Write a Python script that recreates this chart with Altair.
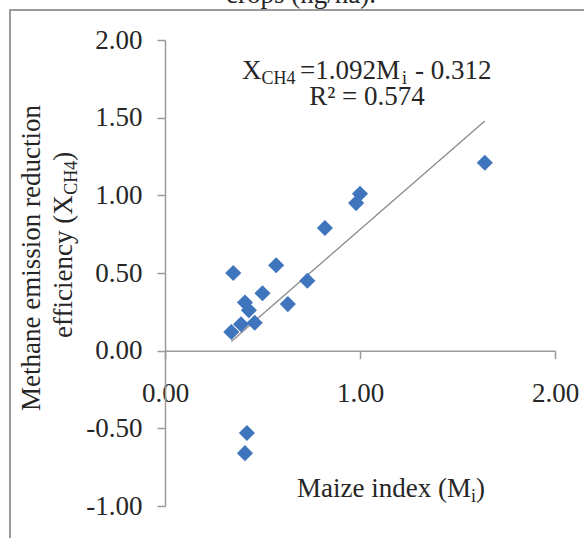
import altair as alt
import pandas as pd

# ---- data ----
maize_index = [0.35, 0.57, 0.73, 0.50, 0.63, 0.41, 0.43, 0.46, 0.39, 0.34,
               1.64, 1.00, 0.98, 0.82, 0.42, 0.41]
ch4_efficiency = [0.50, 0.55, 0.45, 0.37, 0.30, 0.31, 0.26, 0.18, 0.17, 0.12,
                  1.21, 1.01, 0.95, 0.79, -0.53, -0.66]
slope = 1.092
intercept = -0.312
x_ticks = [0.0, 1.0, 2.0]
y_ticks = [-1.0, -0.5, 0.0, 0.5, 1.0, 1.5, 2.0]

W, H = 390, 466
LEFT, TOP = 165, 40
FONT = "Liberation Serif"
FS = 27
SUB = 18
TXT = "#262626"
AX = "#9a9a9a"
NB = "\u00a0"

df = pd.DataFrame({"mi": maize_index, "x": ch4_efficiency})
xs = [min(maize_index), max(maize_index)]
trend = pd.DataFrame({"mi": xs, "x": [slope * v + intercept for v in xs]})

xscale = alt.Scale(domain=[0, 2], nice=False, zero=False)
yscale = alt.Scale(domain=[-1, 2], nice=False, zero=False)

y0_px = H * 2 / 3  # pixel of y = 0
label_expr = "datum.value < 0 ? '-' + format(-datum.value, '.2f') : format(datum.value, '.2f')"

points = alt.Chart(df).mark_point(
    shape="diamond", filled=True, size=260, color="#3F75BC", opacity=1
).encode(
    x=alt.X("mi:Q", scale=xscale, axis=alt.Axis(
        values=x_ticks, labelExpr=label_expr, orient="bottom", offset=-(H - y0_px),
        domainColor=AX, domainWidth=1.5, tickColor=AX, tickWidth=1.5, tickSize=8,
        labelFont=FONT, labelFontSize=FS, labelColor=TXT, labelPadding=22,
        labelFlush=False, labelOverlap=False, grid=False, title=None)),
    y=alt.Y("x:Q", scale=yscale, axis=alt.Axis(
        values=y_ticks, labelExpr=label_expr, domainColor=AX, domainWidth=1.5,
        tickColor=AX, tickWidth=1.5, tickSize=8,
        labelFont=FONT, labelFontSize=FS, labelColor=TXT, labelPadding=15,
        labelFlush=False, labelOverlap=False, grid=False, title=None)),
)

line = alt.Chart(trend).mark_line(color="#8a8a8a", strokeWidth=1.3).encode(
    x=alt.X("mi:Q", scale=xscale), y=alt.Y("x:Q", scale=yscale)
)


def txt(text, ax, ay, size=FS, align="left", baseline="alphabetic", angle=0):
    kw = dict(text=text, font=FONT, fontSize=size, color=TXT, align=align,
              baseline=baseline)
    if angle:
        kw["angle"] = angle
    return alt.Chart(pd.DataFrame({"a": [0]})).mark_text(**kw).encode(
        x=alt.value(ax - LEFT), y=alt.value(ay - TOP))


frame = alt.Chart(pd.DataFrame({"a": [0]})).mark_rect(
    fillOpacity=0, stroke="#9a9a9a", strokeWidth=2
).encode(x=alt.value(10 - LEFT), y=alt.value(10 - TOP),
         x2=alt.value(700 - LEFT), y2=alt.value(700 - TOP))

annotations = [
    txt("crops (ng/ha).", 301, 3, align="center"),
    # equation
    txt("X", 242, 79),
    txt("CH4", 261.5, 84, size=SUB),
    txt("=1.092M", 300, 79),
    txt("i", 402, 84, size=SUB),
    txt("-" + NB + "0.312", 415, 79),
    txt("R²" + NB + "=" + NB + "0.574", 367, 105, align="center"),
    # x title
    txt("Maize index (M", 297, 497),
    txt("i", 471, 502, size=SUB),
    txt(")", 476, 497),
    # y title
    txt("Methane emission reduction", 40, 258, align="center", angle=270),
    txt("efficiency (X", 72, 338, angle=270),
    txt("CH4", 77, 194.8, size=SUB, angle=270),
    txt(")", 72, 160.8, angle=270),
]

chart = alt.layer(frame, line, points, *annotations).properties(
    width=W, height=H,
    padding={"left": LEFT, "top": TOP, "right": 584 - LEFT - W, "bottom": 538 - TOP - H},
    autosize=alt.AutoSizeParams(type="none"),
    background="white",
).configure_view(strokeWidth=0)

chart.save("out.html", embed_options={"renderer": "svg", "actions": False})
